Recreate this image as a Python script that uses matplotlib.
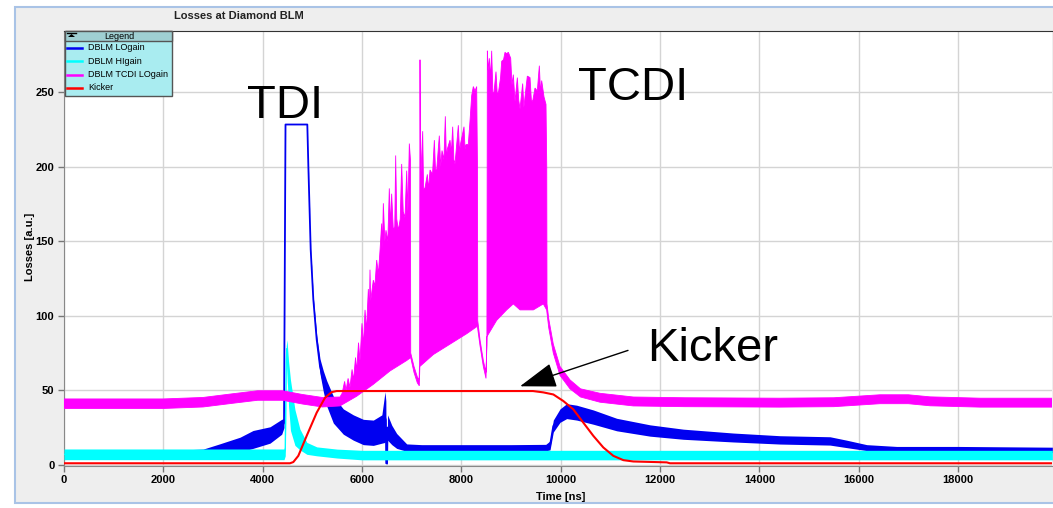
import numpy as np
import matplotlib
matplotlib.use('Agg')
import matplotlib.pyplot as plt
from matplotlib.patches import Rectangle, Polygon
from matplotlib.lines import Line2D

plt.rcParams['font.family'] = ['Liberation Sans', 'DejaVu Sans']

# ---- data (time in ns, losses in a.u.) ----
# DBLM LOgain: centre of the trace and half width of its noise band
blue_t = np.array([0, 1000, 2000, 2800, 3141, 3544, 3806, 4148, 4383, 4430, 4460, 4899, 4920, 4967, 5020,
                   5088, 5155, 5222, 5289, 5423, 5624, 5826, 6027, 6228, 6400, 6463, 6480, 6488, 6505, 6515,
                   6600, 6698, 6900, 7200, 9000, 9700, 9786, 9852, 9987, 10121, 10322, 10658, 11128, 11799,
                   12470, 13477, 14417, 15423, 15759, 16162, 16766, 18000, 19900])
blue_c = np.array([7.5, 7.5, 7.5, 8, 9.6, 13.5, 17, 20, 25.5, 28, 228.5, 228.5, 200.5, 144.6, 111,
                   84, 66, 56, 48, 37, 29, 25, 22, 21.5, 24, 32, 30, 1, 1, 25,
                   20, 16, 11.5, 11.5, 11.5, 11.5, 13, 26, 33, 36, 35, 32, 27, 23,
                   20.5, 18.3, 16.7, 16, 14, 11.5, 10.5, 10.5, 10])
blue_w = np.array([2, 2, 2, 2.5, 4.5, 5, 6, 5.5, 5, 3, 0, 0, 0.5, 1, 1.5,
                   3, 5, 7, 8.5, 9, 8.5, 8.5, 8.5, 8.5, 9.5, 17, 13, 0.5, 0.5, 8.5,
                   6.5, 5, 2.5, 2, 2, 2.2, 3, 4, 4.5, 5, 5, 4.8, 4.2, 3.8,
                   3.4, 3, 2.8, 2.8, 2.5, 2, 1.8, 1.8, 1.8])

# DBLM HIgain
cyan_t = np.array([0, 4430, 4455, 4475, 4490, 4520, 4560, 4650, 4750, 4890, 5090, 5500, 6000, 19900])
cyan_c = np.array([7, 7, 10, 70, 78, 55, 40, 25, 17, 11, 9, 7.5, 6.5, 6.5])
cyan_w = np.array([3.6, 3.6, 4, 10, 6, 15, 17, 12, 7, 4, 3, 3, 3.2, 3.2])

# DBLM TCDI LOgain: upper and lower outline of the trace
mag_up_t = np.array([0, 2000, 2800, 3400, 3900, 4400, 4800, 5200, 5557, 5600, 5650, 5680, 5720, 5758, 5800,
                     5830, 5870, 5893, 5930, 5960, 6000, 6030, 6061, 6090, 6128, 6150,
                     6161, 6175, 6228, 6260, 6296, 6330, 6363, 6396, 6410, 6430, 6460, 6483, 6520, 6550, 6575,
                     6597, 6631, 6660, 6678, 6700, 6732, 6770, 6799, 6830, 6866, 6900, 6925, 6953, 6975, 6981,
                     7047, 7114, 7150, 7160, 7168, 7180, 7222, 7240, 7269, 7316, 7340, 7370, 7420, 7457, 7480,
                     7504, 7557, 7585, 7611, 7650, 7678, 7700, 7718, 7772, 7800, 7826, 7850, 7873, 7940, 7965,
                     7987, 8054, 8075, 8094, 8140, 8175, 8209, 8242, 8276, 8309, 8325, 8330, 8376, 8443, 8497,
                     8515, 8524, 8540, 8564, 8590, 8611, 8635, 8658, 8698, 8725, 8752, 8790, 8813, 8850, 8880,
                     8910, 8947, 8994, 9020, 9047, 9081, 9128, 9155, 9182, 9235, 9260, 9282, 9329, 9383, 9410,
                     9436, 9484, 9530, 9571, 9595, 9618, 9665, 9705, 9720, 9725, 9760, 9852, 9987, 10188, 10400,
                     10792, 11463, 12500, 14400, 15500, 16430, 17000, 17437, 18444, 19900])
mag_up_v = np.array([44.2, 44.2, 45.2, 47.7, 49.7, 49.7, 47.2, 45.2, 45.5, 48, 56, 50, 58, 52, 64,
                     57, 72, 63, 82, 70, 95, 80, 104, 90, 118, 102,
                     131, 110, 124, 120, 137.5, 128, 144, 162, 145, 175.6, 150, 157.5, 150, 185.6, 160,
                     182, 157.5, 160, 207.7, 165, 157.5, 165, 202, 170, 166, 197.5, 170, 215.7, 205, 75,
                     66, 59, 57, 70, 272, 190, 224, 185, 186, 195, 185, 198, 195, 218, 198,
                     198, 221, 200, 211, 205, 234, 205, 212, 218, 210, 227, 205, 202, 228, 210,
                     216, 227, 212, 215, 215, 231, 248, 254, 251, 254, 200, 97, 84, 70, 62,
                     80, 278, 265, 273, 260, 278, 250, 250, 264, 248, 251, 260, 271, 272, 277,
                     276, 277, 273, 255, 262, 244, 260, 245, 239, 256, 240, 247, 261, 260, 245,
                     244, 253, 251, 268, 250, 258, 247, 242, 200, 108, 98, 81, 66, 57, 51,
                     48, 45.5, 45, 44.7, 45, 47, 47, 45.6, 44.7, 44.7])
mag_lo_t = np.array([0, 2000, 2800, 3400, 3900, 4400, 4800, 5200, 5557, 5893, 6228, 6564, 6900, 6981, 7047,
                     7114, 7154, 7165, 7436, 7772, 8108, 8323, 8376, 8443, 8497, 8515, 8712, 8913, 9047, 9182,
                     9450, 9651, 9718, 9760, 9852, 9987, 10188, 10400, 10792, 11463, 12500, 14400, 15500, 16430,
                     17000, 17437, 18444, 19900])
mag_lo_v = np.array([37.8, 37.8, 38.8, 41.3, 43.3, 43.3, 40.8, 38.8, 39.5, 46, 54, 63, 70, 72, 62,
                     55, 53, 66, 74, 81, 88, 93, 80, 66, 58, 86, 97, 104, 108, 104,
                     104, 108, 104, 92, 75, 60, 51, 45.5, 42, 39.5, 39, 38.7, 39, 41,
                     41, 39.6, 38.7, 38.7])

# Kicker
red_t = np.array([0, 4550, 4617, 4718, 4886, 5088, 5255, 5390, 5490, 9443, 9651, 9853, 10054, 10255,
                  10456, 10658, 10859, 11060, 11262, 11463, 12135, 12200, 19900])
red_v = np.array([1, 1, 1.8, 6, 19.4, 35, 45, 48.8, 49.5, 49.5, 48.6, 47.2, 42.8, 37.2,
                  28.3, 19.4, 11.6, 6, 3.1, 2.2, 1.6, 1, 1])

x_ticks = [0, 2000, 4000, 6000, 8000, 10000, 12000, 14000, 16000, 18000]
y_ticks = [0, 50, 100, 150, 200, 250]
series_names = ['DBLM LOgain', 'DBLM HIgain', 'DBLM TCDI LOgain', 'Kicker']
series_colors = ['#0000f0', '#00ffff', '#ff00ff', '#ff0000']

W, H = 1053, 508


def fx(x):
    return x / W


def fy(y):
    return 1 - y / H


fig = plt.figure(figsize=(W / 100, H / 100), dpi=100)
fig.patch.set_facecolor('white')
fig.patches.append(Rectangle((fx(15), fy(503)), fx(1060) - fx(15), fy(7) - fy(503),
                             transform=fig.transFigure, facecolor='#eeeeee',
                             edgecolor='#a9c3e6', lw=1.5, zorder=-5))

ax = fig.add_axes([fx(64), fy(465.5), fx(1052) - fx(64), fy(30.7) - fy(465.5)])
ax.set_facecolor('white')

BLUE, CYAN, MAG, RED = series_colors
ax.fill_between(blue_t, blue_c - blue_w, blue_c + blue_w, color=BLUE, lw=0, zorder=2)
ax.plot(blue_t, blue_c, color=BLUE, lw=1.3, zorder=2)
ax.fill_between(cyan_t, cyan_c - cyan_w, cyan_c + cyan_w, color=CYAN, lw=0, zorder=3)
ax.plot(cyan_t, cyan_c, color=CYAN, lw=1.0, zorder=3)
ax.fill(np.concatenate([mag_up_t, mag_lo_t[::-1]]), np.concatenate([mag_up_v, mag_lo_v[::-1]]),
        facecolor=MAG, edgecolor=MAG, lw=0.6, zorder=4)
ax.plot(red_t, red_v, color=RED, lw=1.5, zorder=5)

ax.set_xlim(0, 19893)
ax.set_ylim(-0.5, 291.5)
ax.set_xticks(x_ticks)
ax.set_xticklabels([str(t) for t in x_ticks], fontweight='bold', fontsize=8)
ax.set_yticks(y_ticks)
ax.set_yticklabels([str(t) for t in y_ticks], fontweight='bold', fontsize=8)
ax.tick_params(direction='out', length=4, width=1, color='#777777', pad=3)
ax.grid(True, color='#d4d4d4', lw=1)
ax.set_axisbelow(True)
for s in ['left', 'bottom']:
    ax.spines[s].set_color('#888888')
ax.spines['top'].set_color('#333333')
ax.spines['right'].set_visible(False)

fig.text(fx(239), fy(16), 'Losses at Diamond BLM', ha='center', va='center', fontsize=8, fontweight='bold', color='#222222')
fig.text(fx(30), fy(247), 'Losses [a.u.]', rotation=90, ha='center', va='center', fontsize=8, fontweight='bold')
fig.text(fx(561), fy(497), 'Time [ns]', ha='center', va='center', fontsize=8, fontweight='bold')

# big annotations
ax.text(4450, 233, 'TDI', ha='center', va='baseline', fontsize=34, zorder=7)
ax.text(11457, 245, 'TCDI', ha='center', va='baseline', fontsize=34, zorder=7)
ax.text(13068, 69.5, 'Kicker', ha='center', va='baseline', fontsize=34, zorder=7)
ax.annotate('', xy=(9182, 52.7), xytext=(11356, 76.8),
            arrowprops=dict(arrowstyle='-|>,head_length=2.3,head_width=0.78', mutation_scale=10,
                            color='black', lw=1, shrinkA=0, shrinkB=0), zorder=7)

# legend box
fig.patches.append(Rectangle((fx(65), fy(96)), fx(172) - fx(65), fy(31) - fy(96), transform=fig.transFigure,
                             facecolor='#a9ecf0', edgecolor='#555555', lw=1, zorder=10))
fig.patches.append(Rectangle((fx(65), fy(41)), fx(172) - fx(65), fy(31) - fy(41), transform=fig.transFigure,
                             facecolor='#9fcfd2', edgecolor='#555555', lw=1, zorder=10))
fig.patches.append(Polygon([[fx(68), fy(37)], [fx(75), fy(37)], [fx(71.5), fy(34)]], closed=True,
                           transform=fig.transFigure, facecolor='black', zorder=11))
fig.lines.append(Line2D([fx(67), fx(76)], [fy(33), fy(33)], transform=fig.transFigure, color='black', lw=1, zorder=11))
fig.text(fx(119), fy(36.5), 'Legend', ha='center', va='center', fontsize=6.5, zorder=12)
for i, (name, col) in enumerate(zip(series_names, series_colors)):
    yy = 48 + i * 13.3
    fig.lines.append(Line2D([fx(67), fx(82)], [fy(yy), fy(yy)], transform=fig.transFigure, color=col, lw=1.8, zorder=11))
    fig.text(fx(88), fy(yy), name, ha='left', va='center', fontsize=6.5, zorder=12)

fig.savefig('out.png', dpi=100)
